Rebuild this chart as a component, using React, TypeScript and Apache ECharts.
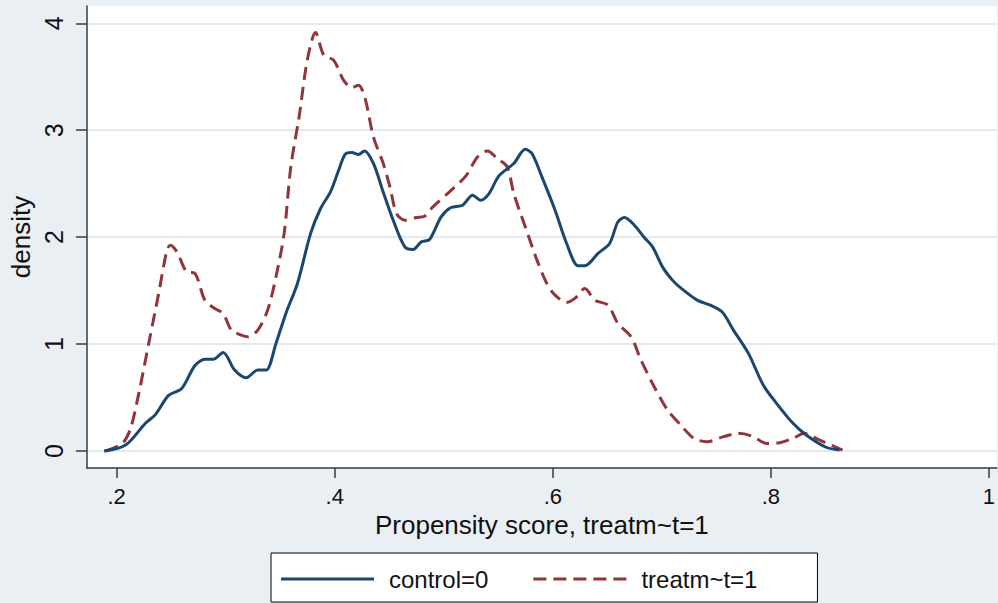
import React, { useEffect, useRef } from 'react';
import * as echarts from 'echarts';

const seriesNames = ['control=0', 'treatm~t=1'];

const controlX = [0.1885, 0.2082, 0.2264, 0.2355, 0.2476, 0.2597, 0.2718, 0.2809, 0.2885, 0.2976, 0.3082, 0.3188, 0.3294, 0.337, 0.3461, 0.3552, 0.3658, 0.3779, 0.387, 0.3961, 0.4036, 0.4097, 0.4158, 0.4218, 0.4273, 0.4355, 0.4445, 0.4536, 0.4643, 0.4718, 0.4794, 0.487, 0.4976, 0.5066, 0.5173, 0.5264, 0.5339, 0.5415, 0.5506, 0.5642, 0.5748, 0.5809, 0.59, 0.6021, 0.6127, 0.6233, 0.6294, 0.6415, 0.6521, 0.6597, 0.6657, 0.6748, 0.6839, 0.6915, 0.7006, 0.7097, 0.7173, 0.7324, 0.7445, 0.7552, 0.7657, 0.7794, 0.793, 0.8052, 0.8203, 0.8324, 0.8506, 0.863];
const controlY = [0.0, 0.056, 0.26, 0.34, 0.52, 0.585, 0.8, 0.857, 0.857, 0.922, 0.757, 0.685, 0.757, 0.757, 1.006, 1.287, 1.567, 2.035, 2.268, 2.424, 2.626, 2.776, 2.791, 2.773, 2.807, 2.689, 2.42, 2.159, 1.909, 1.885, 1.956, 1.978, 2.19, 2.277, 2.299, 2.393, 2.346, 2.408, 2.573, 2.689, 2.822, 2.782, 2.564, 2.252, 1.941, 1.732, 1.732, 1.848, 1.941, 2.143, 2.184, 2.112, 1.997, 1.909, 1.722, 1.598, 1.525, 1.411, 1.364, 1.302, 1.131, 0.913, 0.617, 0.446, 0.259, 0.15, 0.035, 0.009];

const treatX = [0.19, 0.2052, 0.2127, 0.2203, 0.2294, 0.2385, 0.2461, 0.2491, 0.2552, 0.2642, 0.2718, 0.2809, 0.29, 0.2976, 0.3052, 0.3143, 0.3203, 0.3294, 0.3385, 0.3461, 0.3536, 0.3597, 0.3673, 0.3748, 0.3824, 0.39, 0.3991, 0.4082, 0.4158, 0.4218, 0.4279, 0.4355, 0.4445, 0.4506, 0.4567, 0.4643, 0.4748, 0.4824, 0.49, 0.5052, 0.5203, 0.5309, 0.54, 0.5491, 0.5582, 0.5642, 0.5748, 0.5855, 0.5945, 0.6021, 0.6127, 0.6203, 0.6294, 0.6385, 0.6506, 0.6597, 0.6718, 0.6809, 0.693, 0.7052, 0.7173, 0.7294, 0.7415, 0.7567, 0.7703, 0.7824, 0.7961, 0.8082, 0.8203, 0.8309, 0.8445, 0.8657];
const treatY = [0.0, 0.071, 0.21, 0.539, 1.006, 1.473, 1.879, 1.925, 1.863, 1.676, 1.661, 1.411, 1.333, 1.287, 1.131, 1.084, 1.068, 1.131, 1.318, 1.629, 2.035, 2.657, 3.124, 3.654, 3.913, 3.701, 3.654, 3.467, 3.399, 3.421, 3.296, 2.937, 2.689, 2.47, 2.221, 2.159, 2.184, 2.196, 2.283, 2.424, 2.573, 2.75, 2.807, 2.735, 2.657, 2.408, 2.096, 1.785, 1.567, 1.458, 1.39, 1.427, 1.52, 1.411, 1.364, 1.193, 1.068, 0.85, 0.601, 0.383, 0.243, 0.118, 0.087, 0.134, 0.165, 0.14, 0.071, 0.078, 0.118, 0.165, 0.103, 0.009];

const xTicks = [0.2, 0.4, 0.6, 0.8, 1];
const xTickLabels = ['.2', '.4', '.6', '.8', '1'];
const yTicks = [0, 1, 2, 3, 4];
const yTickLabels = ['0', '1', '2', '3', '4'];

const xTitle = 'Propensity score, treatm~t=1';
const yTitle = 'density';

const FONT = '"Liberation Sans", Arial, Helvetica, sans-serif';

const solidIcon = 'path://M0,0h93v3h-93z';
const dashedIcon = 'path://M0,0h13v3h-13z M20,0h13v3h-13z M40,0h13v3h-13z M60,0h13v3h-13z M80,0h13v3h-13z';

function labelFor(ticks: number[], labels: string[], v: number): string {
  const i = ticks.findIndex((t) => Math.abs(t - v) < 1e-6);
  return i >= 0 ? labels[i] : '';
}

export default function App() {
  const ref = useRef<HTMLDivElement>(null);
  useEffect(() => {
    document.body.style.margin = '0';
    if (!ref.current) return;
    const chart = echarts.init(ref.current, undefined, { renderer: 'svg' });
    const axisColor = '#3a3a3a';
    chart.setOption({
      animation: false,
      backgroundColor: '#e9eff3',
      grid: {
        left: 81,
        right: 0,
        top: 6,
        bottom: 135,
        show: true,
        backgroundColor: '#ffffff',
        borderWidth: 0,
        containLabel: false,
      },
      legend: {
        left: 271,
        top: 553,
        orient: 'horizontal',
        backgroundColor: '#ffffff',
        borderColor: '#000000',
        borderWidth: 1,
        borderRadius: 0,
        padding: [13, 60, 10, 10],
        itemGap: 45,
        itemWidth: 93,
        itemHeight: 3,
        symbolKeepAspect: false,
        data: [
          { name: seriesNames[0], icon: solidIcon },
          { name: seriesNames[1], icon: dashedIcon },
        ],
        textStyle: {
          fontFamily: FONT,
          fontSize: 24,
          color: '#111',
          lineHeight: 26,
          padding: [0, 0, 0, 10],
        },
      },
      xAxis: {
        type: 'value',
        min: 0.1727,
        max: 1.0073,
        name: xTitle,
        nameLocation: 'middle',
        nameGap: 44,
        nameTextStyle: { fontFamily: FONT, fontSize: 26, color: '#111' },
        axisLine: { show: true, onZero: false, lineStyle: { color: axisColor, width: 1.5 } },
        axisTick: { show: true, length: 10, customValues: xTicks, lineStyle: { color: axisColor, width: 1.5 } },
        axisLabel: {
          customValues: xTicks,
          margin: 17,
          fontFamily: FONT,
          fontSize: 22,
          color: '#111',
          formatter: (v: number) => labelFor(xTicks, xTickLabels, v),
        },
        splitLine: { show: false },
      },
      yAxis: {
        type: 'value',
        min: -0.159,
        max: 4.162,
        name: yTitle,
        nameLocation: 'middle',
        nameGap: 43,
        nameRotate: 90,
        nameTextStyle: { fontFamily: FONT, fontSize: 26, color: '#111' },
        axisLine: { show: true, onZero: false, lineStyle: { color: axisColor, width: 1.5 } },
        axisTick: { show: true, length: 11, customValues: yTicks, lineStyle: { color: axisColor, width: 1.5 } },
        axisLabel: {
          customValues: yTicks,
          rotate: 90,
          margin: 20,
          fontFamily: FONT,
          fontSize: 25,
          color: '#111',
          formatter: (v: number) => labelFor(yTicks, yTickLabels, v),
        },
        splitLine: { show: true, lineStyle: { color: '#e3eaee', width: 2 } },
      },
      series: [
        {
          name: seriesNames[0],
          type: 'line',
          data: controlX.map((x, i) => [x, controlY[i]]),
          showSymbol: false,
          symbol: 'none',
          smooth: 0.3,
          lineStyle: { color: '#1a476f', width: 3 },
          itemStyle: { color: '#1a476f' },
          z: 3,
        },
        {
          name: seriesNames[1],
          type: 'line',
          data: treatX.map((x, i) => [x, treatY[i]]),
          showSymbol: false,
          symbol: 'none',
          smooth: 0.3,
          lineStyle: { color: '#90353b', width: 3, type: [13, 7] },
          itemStyle: { color: '#90353b' },
          z: 2,
        },
      ],
    });
    return () => chart.dispose();
  }, []);
  return <div ref={ref} style={{ position: 'fixed', left: 0, top: 0, width: 998, height: 603 }} />;
}
